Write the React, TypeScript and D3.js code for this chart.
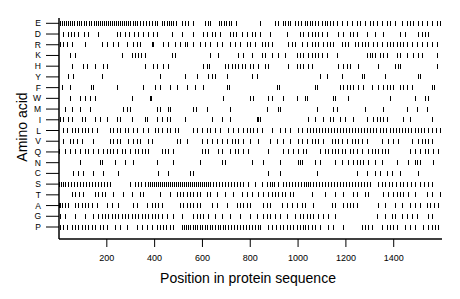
import React from "react";
import * as d3 from "d3";

const aminoAcids = ["E","D","R","K","H","Y","F","W","M","I","L","V","Q","N","C","S","T","A","G","P"];
const xTicks = [200, 400, 600, 800, 1000, 1200, 1400];
const seqLength = 1602;

const posE = [4,13,21,29,38,46,54,63,75,84,92,105,113,125,134,146,155,163,171,180,188,196,205,213,221,230,238,247,255,263,272,280,288,297,309,318,326,339,351,364,376,389,401,410,431,439,451,460,468,477,489,514,527,539,560,610,623,631,669,677,690,698,711,719,740,840,903,915,936,945,957,966,986,999,1012,1028,1037,1049,1058,1070,1083,1099,1112,1120,1133,1145,1162,1183,1204,1225,1246,1258,1279,1300,1313,1329,1350,1371,1384,1404,1434,1455,1467,1480,1501,1517,1538,1559,1580,1593];
const posD = [17,38,50,63,79,105,121,163,242,255,276,293,314,330,351,372,393,410,472,514,560,602,619,640,652,673,715,727,740,765,786,807,819,840,882,953,1007,1020,1041,1058,1070,1083,1099,1120,1166,1187,1216,1229,1246,1287,1321,1354,1425,1446,1501,1517,1530,1542];
const posR = [4,17,33,54,109,180,201,226,247,284,309,326,339,389,393,435,456,485,506,527,535,560,589,610,631,660,681,715,736,757,786,798,819,849,861,874,890,957,974,986,1016,1037,1058,1070,1083,1104,1120,1133,1145,1183,1195,1208,1237,1250,1267,1279,1292,1313,1329,1350,1371,1384,1396,1413,1425,1438,1455,1476,1496,1517,1538,1559,1580];
const posK = [46,67,263,305,318,330,343,359,472,485,631,665,748,769,807,849,861,890,915,945,995,1007,1020,1041,1058,1070,1083,1099,1120,1162,1287,1300,1308,1321,1342,1354,1371,1413,1425,1455,1480,1501,1517,1580];
const posH = [54,100,117,150,184,201,359,393,410,435,456,602,619,627,694,706,723,736,748,765,777,798,811,832,861,874,957,995,1007,1020,1041,1058,1166,1187,1204,1216,1250,1333,1404,1417,1425,1580];
const posY = [38,59,180,422,527,577,623,640,652,702,807,828,1091,1120,1183,1267,1275,1363,1501,1509];
const posF = [13,46,134,142,242,351,401,422,464,493,535,568,602,702,711,911,920,1070,1078,1175,1187,1204,1216,1229,1250,1271,1308,1333,1354,1371,1384,1396,1425,1438,1455,1476,1559,1568];
const posW = [46,88,109,130,150,305,380,385,686,798,811,874,890,936,995,1028,1037,1145,1154,1208,1384,1488,1530,1542];
const posM = [25,54,88,130,268,284,297,410,422,456,464,560,573,619,715,869,915,924,1078,1145,1162,1279,1354,1455,1496,1538];
const posI = [4,17,38,54,96,109,150,171,201,242,255,305,359,368,410,431,451,464,527,640,681,715,828,832,840,1041,1070,1104,1133,1145,1175,1195,1229,1287,1313,1329,1342,1354,1371,1438,1467,1559];
const posL = [17,33,54,67,79,96,109,121,138,159,213,226,242,255,276,288,309,326,351,372,401,414,431,451,464,485,497,560,577,598,619,631,652,673,706,727,748,769,786,798,811,828,849,890,924,945,966,999,1016,1037,1049,1062,1074,1087,1099,1112,1124,1137,1150,1162,1175,1187,1200,1212,1225,1237,1250,1262,1275,1287,1300,1313,1325,1342,1354,1367,1384,1396,1409,1421,1434,1446,1459,1471,1488,1501,1513,1526,1542,1559,1576,1593];
const posV = [17,46,59,75,96,142,213,226,242,255,288,309,326,339,372,389,493,506,535,598,619,640,660,681,702,723,736,748,769,798,832,882,911,936,966,999,1016,1037,1058,1070,1083,1104,1141,1154,1166,1183,1204,1225,1237,1250,1267,1287,1350,1375,1396,1417,1476,1501,1517,1530,1542,1559];
const posQ = [1,25,46,67,88,109,121,142,163,184,201,213,226,242,263,276,297,318,330,347,359,372,431,443,456,477,598,610,623,665,681,715,736,748,769,790,874,936,957,978,999,1020,1033,1091,1112,1124,1141,1154,1166,1183,1195,1216,1229,1246,1267,1292,1308,1321,1333,1350,1363,1375,1467,1488,1509,1530,1542,1563,1584];
const posN = [88,171,180,234,276,309,410,476,589,681,694,807,853,924,999,1007,1016,1070,1091,1154,1183,1208,1229,1246,1258,1271,1292,1321,1350,1413,1459,1488,1496,1509,1563];
const posC = [59,79,100,142,184,247,414,456,548,560,874,924,1078,1246,1287,1321,1342,1371,1392,1425,1501];
const posS = [1,8,17,25,38,50,63,75,88,100,113,125,138,150,163,176,188,201,213,297,318,330,343,359,372,380,389,397,405,414,422,431,439,447,456,464,472,481,489,497,506,514,523,531,539,548,556,564,573,581,589,598,606,614,623,631,644,656,669,681,694,706,719,731,744,757,769,790,819,849,869,882,890,899,915,936,949,961,974,986,999,1012,1024,1032,1041,1049,1062,1074,1087,1099,1112,1124,1137,1150,1162,1175,1187,1200,1212,1225,1237,1250,1262,1275,1287,1300,1333,1350,1363,1379,1392,1409,1425,1438,1455,1471,1488,1509,1526,1542,1559];
const posT = [54,67,84,100,150,163,180,192,226,268,305,339,351,422,464,493,506,518,535,548,560,577,589,619,631,660,694,727,765,786,807,832,853,874,890,903,915,932,945,966,978,1058,1112,1154,1187,1229,1246,1279,1292,1354,1375,1396,1413,1425,1438,1459,1488,1538,1559,1593];
const posA = [1,4,13,25,38,67,79,96,109,121,138,159,201,222,247,309,326,368,389,401,414,431,506,518,535,548,560,577,589,640,660,702,744,757,769,786,798,853,869,882,932,953,974,995,1016,1028,1062,1141,1154,1187,1204,1216,1229,1246,1333,1363,1404,1434,1467,1488,1509,1538,1551,1568,1584];
const posG = [4,25,67,109,142,163,180,192,205,222,234,247,263,276,288,305,318,330,347,359,372,389,401,414,431,451,477,514,560,577,589,602,623,652,681,715,757,798,828,853,869,882,903,924,953,986,1007,1020,1037,1049,1062,1083,1104,1124,1154,1329,1363,1392,1404,1434,1455,1476,1496,1542,1559];
const posP = [4,17,33,54,67,79,96,109,121,138,150,171,184,201,234,255,284,326,347,368,389,410,422,435,447,464,477,514,523,531,539,548,560,568,577,589,598,610,619,631,640,652,665,673,686,694,706,719,731,744,757,769,782,794,807,819,832,840,874,890,907,924,936,953,966,978,995,1007,1020,1028,1041,1058,1070,1091,1124,1145,1187,1267,1279,1292,1308,1350,1371,1384,1396,1413,1446,1467,1488,1521,1542,1559,1572,1584];

const positions: Record<string, number[]> = {
  E: posE, D: posD, R: posR, K: posK, H: posH, Y: posY, F: posF, W: posW, M: posM, I: posI,
  L: posL, V: posV, Q: posQ, N: posN, C: posC, S: posS, T: posT, A: posA, G: posG, P: posP,
};

const W = 460;
const H = 299;
const left = 59;
const right = 442;
const axisY = 239;

export default function App() {
  const x = d3.scaleLinear().domain([0, seqLength]).range([left, right]);
  const y = d3.scalePoint<string>().domain(aminoAcids).range([23.3, 227]);
  const font = "Arial, 'Liberation Sans', Helvetica, sans-serif";

  return (
    <svg
      width={W}
      height={H}
      style={{ position: "absolute", left: 0, top: 0, background: "#fff" }}
      fontFamily={font}
    >
      <rect width={W} height={H} fill="#fff" />
      {/* marks */}
      <g shapeRendering="crispEdges">
        {aminoAcids.map((aa) =>
          positions[aa].map((p, i) => (
            <line
              key={aa + i}
              x1={Math.round(x(p)) + 0.5}
              x2={Math.round(x(p)) + 0.5}
              y1={(y(aa) as number) - 2.5}
              y2={(y(aa) as number) + 2.5}
              stroke="#000"
              strokeWidth={1}
            />
          ))
        )}
      </g>
      {/* y axis */}
      <line x1={left} x2={left} y1={18} y2={axisY} stroke="#000" strokeWidth={1.5} />
      {aminoAcids.map((aa) => (
        <g key={"yt" + aa}>
          <line x1={46} x2={left} y1={y(aa)} y2={y(aa)} stroke="#000" strokeWidth={1} />
          <text x={41} y={(y(aa) as number) + 3} textAnchor="end" fontSize={8.5} fill="#000">
            {aa}
          </text>
        </g>
      ))}
      {/* x axis */}
      <line x1={left} x2={right} y1={axisY} y2={axisY} stroke="#000" strokeWidth={1.5} />
      {xTicks.map((t) => (
        <g key={"xt" + t}>
          <line x1={x(t)} x2={x(t)} y1={axisY} y2={axisY + 8} stroke="#000" strokeWidth={1} />
          <text x={x(t)} y={261} textAnchor="middle" fontSize={9} fill="#000">
            {t}
          </text>
        </g>
      ))}
      <text x={248} y={283} textAnchor="middle" fontSize={14} fill="#000">
        Position in protein sequence
      </text>
      <text
        transform={`translate(27,127) rotate(-90)`}
        textAnchor="middle"
        fontSize={14}
        fill="#000"
      >
        Amino acid
      </text>
    </svg>
  );
}
